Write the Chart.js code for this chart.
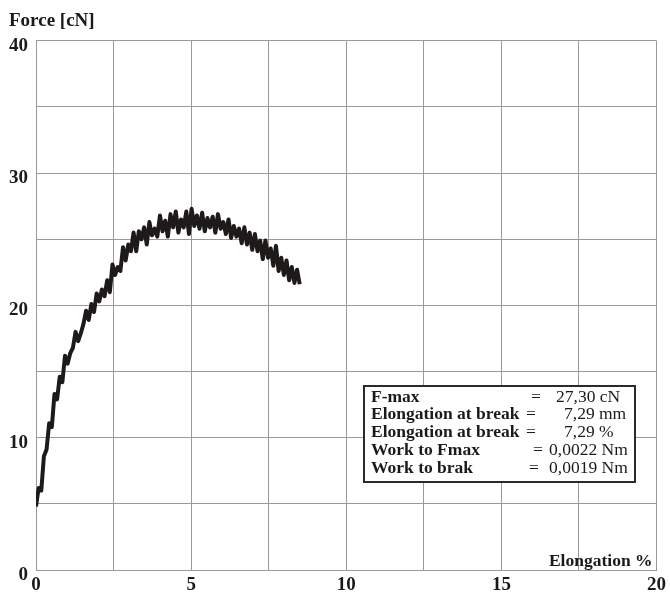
<!DOCTYPE html>
<html>
<head>
<meta charset="utf-8">
<title>Force vs Elongation</title>
<script src="https://cdn.jsdelivr.net/npm/chart.js@4.4.1/dist/chart.umd.min.js"></script>
<style>
    html, body { margin: 0; padding: 0; background: #ffffff; }
    #chart { display: block; }
</style>
</head>
<body>
<canvas id="chart" width="670" height="592"></canvas>
<script>
// --- DATA ---
const elongation = [
    0.00, 0.085, 0.17, 0.255, 0.34, 0.425, 0.51, 0.595, 0.68, 0.765,
    0.85, 0.935, 1.02, 1.105, 1.19, 1.275, 1.36, 1.445, 1.53, 1.615,
    1.70, 1.785, 1.87, 1.955, 2.04, 2.125, 2.21, 2.295, 2.38, 2.465,
    2.55, 2.635, 2.72, 2.805, 2.89, 2.975, 3.06, 3.145, 3.23, 3.315,
    3.40, 3.485, 3.57, 3.655, 3.74, 3.825, 3.91, 3.995, 4.08, 4.165,
    4.25, 4.335, 4.42, 4.505, 4.59, 4.675, 4.76, 4.845, 4.93, 5.015,
    5.10, 5.185, 5.27, 5.355, 5.44, 5.525, 5.61, 5.695, 5.78, 5.865,
    5.95, 6.035, 6.12, 6.205, 6.29, 6.375, 6.46, 6.545, 6.63, 6.715,
    6.80, 6.885, 6.97, 7.055, 7.14, 7.225, 7.31, 7.395, 7.48, 7.565,
    7.65, 7.735, 7.82, 7.905, 7.99, 8.075, 8.16, 8.245, 8.33, 8.415,
    8.50
];
const force = [
    4.8, 6.2, 6.0, 8.6, 9.1, 11.1, 10.8, 13.3, 12.9, 14.6,
    14.2, 16.2, 15.6, 16.4, 16.8, 18.0, 17.3, 17.9, 18.6, 19.6,
    18.9, 20.1, 19.5, 20.9, 20.3, 21.2, 20.7, 21.9, 21.0, 23.1,
    22.3, 22.9, 22.6, 24.4, 23.4, 24.6, 24.1, 25.5, 24.1, 25.6,
    25.0, 25.9, 24.6, 26.3, 25.3, 25.8, 25.2, 26.8, 25.6, 26.4,
    25.2, 26.9, 25.9, 27.1, 25.5, 26.5, 25.9, 27.1, 25.4, 27.3,
    26.0, 26.8, 25.8, 27.0, 25.6, 26.6, 25.9, 26.7, 25.5, 26.9,
    25.8, 26.3, 25.4, 26.5, 25.1, 26.0, 25.2, 25.8, 24.7, 25.9,
    24.6, 25.5, 24.2, 25.4, 24.1, 24.9, 23.5, 24.9, 23.6, 24.3,
    23.0, 24.5, 22.6, 23.6, 22.3, 23.4, 21.9, 22.9, 21.7, 22.7,
    21.6
];
const xTickLabels = [0, 5, 10, 15, 20];
const yTickLabels = [0, 10, 20, 30, 40];

const resultNames = ['F-max', 'Elongation at break', 'Elongation at break', 'Work to Fmax', 'Work to brak'];
const resultValues = ['27,30 cN', '7,29 mm', '7,29 %', '0,0022 Nm', '0,0019 Nm'];

// --- STYLE ---
const SERIF = '"Liberation Serif", "Times New Roman", serif';
const GRID_COLOR = '#9a9a9a';
const TEXT_COLOR = '#1a1a1a';

// Draws the axis caption inside the plot and the results box
const annotationsPlugin = {
    id: 'annotations',
    afterDraw(chart) {
        const ctx = chart.ctx;
        const area = chart.chartArea;
        ctx.save();

        // x axis caption, bottom right inside the plot
        ctx.fillStyle = TEXT_COLOR;
        ctx.font = `bold 17.5px ${SERIF}`;
        ctx.textAlign = 'right';
        ctx.textBaseline = 'middle';
        ctx.fillText('Elongation %', area.right - 4, area.bottom - 9);

        // results box
        const boxX = 364, boxY = 386, boxW = 271, boxH = 96;
        ctx.fillStyle = '#ffffff';
        ctx.fillRect(boxX, boxY, boxW, boxH);
        ctx.strokeStyle = '#2a2a2a';
        ctx.lineWidth = 2;
        ctx.strokeRect(boxX, boxY, boxW, boxH);

        const rowY = [397, 414.5, 432, 450, 468];
        const eqX = [531, 526, 526, 533, 529];
        const valX = [556, 564, 564, 549, 549];
        ctx.textAlign = 'left';
        ctx.fillStyle = TEXT_COLOR;
        resultNames.forEach((name, i) => {
            ctx.font = `bold 17.5px ${SERIF}`;
            ctx.fillText(name, 371, rowY[i]);
            ctx.font = `17.5px ${SERIF}`;
            ctx.fillText('=', eqX[i], rowY[i]);
            ctx.fillText(resultValues[i], valX[i], rowY[i]);
        });

        ctx.restore();
    }
};

new Chart(document.getElementById('chart'), {
    type: 'scatter',
    data: {
        datasets: [{
            label: 'Force',
            data: elongation.map((x, i) => ({ x: x, y: force[i] })),
            showLine: true,
            borderColor: '#1e1a1a',
            borderWidth: 4,
            borderJoinStyle: 'round',
            pointRadius: 0,
            tension: 0
        }]
    },
    options: {
        responsive: false,
        animation: false,
        devicePixelRatio: 1,
        layout: { padding: { left: 9, right: 13, top: 0, bottom: 0 } },
        plugins: {
            legend: { display: false },
            tooltip: { enabled: false },
            title: {
                display: true,
                text: 'Force [cN]',
                align: 'start',
                color: TEXT_COLOR,
                font: { family: SERIF, size: 19, weight: 'bold' },
                padding: { top: 10, bottom: 8 }
            }
        },
        scales: {
            x: {
                type: 'linear',
                min: 0,
                max: 20,
                grid: { color: GRID_COLOR, lineWidth: 1, drawTicks: false },
                border: { color: GRID_COLOR },
                ticks: {
                    stepSize: 2.5,
                    padding: 4,
                    maxRotation: 0,
                    color: TEXT_COLOR,
                    font: { family: SERIF, size: 19, weight: 'bold' },
                    callback: (v) => xTickLabels.includes(v) ? String(v) : ''
                },
                afterFit: (scale) => { scale.height = 22; }
            },
            y: {
                type: 'linear',
                min: 0,
                max: 40,
                grid: { color: GRID_COLOR, lineWidth: 1, drawTicks: false },
                border: { color: GRID_COLOR },
                ticks: {
                    stepSize: 5,
                    padding: 8,
                    labelOffset: 5,
                    color: TEXT_COLOR,
                    font: { family: SERIF, size: 19, weight: 'bold' },
                    callback: (v) => yTickLabels.includes(v) ? String(v) : ''
                },
                afterFit: (scale) => { scale.width = 27; }
            }
        }
    },
    plugins: [annotationsPlugin]
});
</script>
</body>
</html>
